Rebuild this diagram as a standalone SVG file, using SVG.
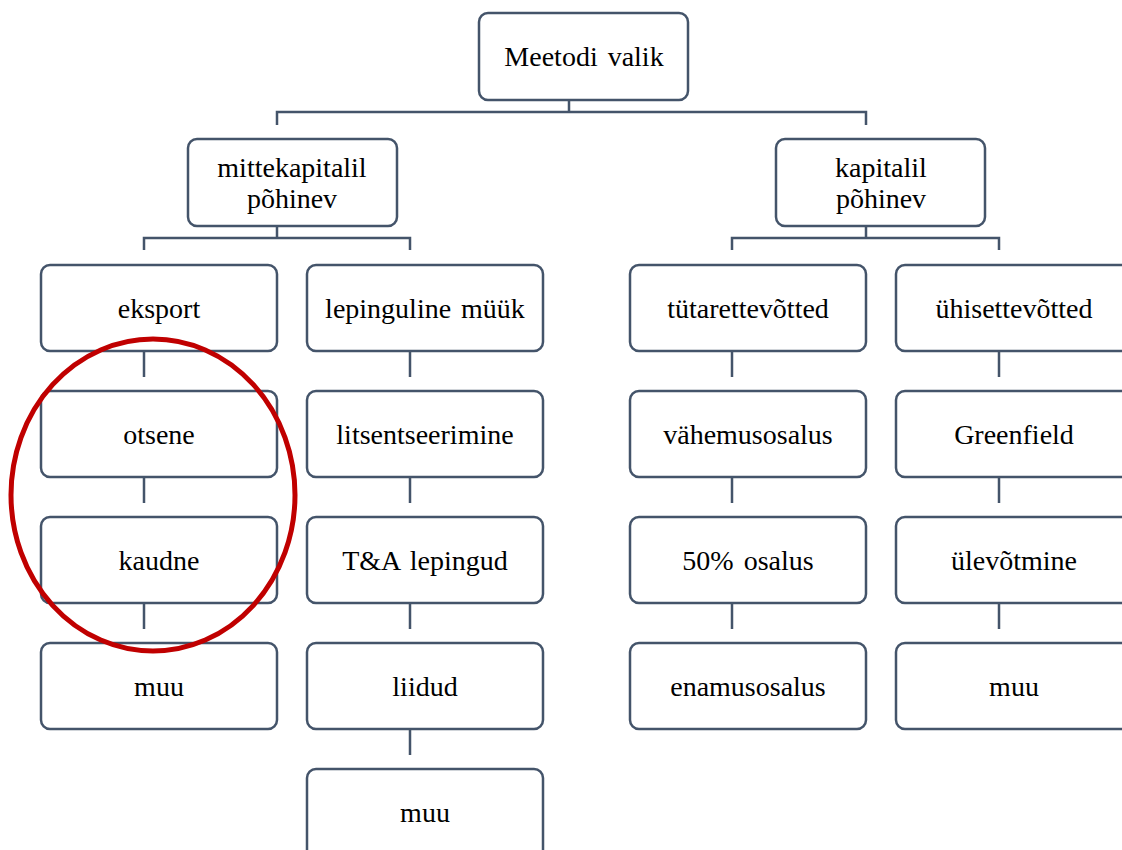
<svg xmlns="http://www.w3.org/2000/svg" width="1122" height="850" viewBox="0 0 1122 850">
<defs>
<rect id="box" width="236" height="86" rx="9" fill="#fff" stroke="#44546a" stroke-width="2.5"/>
<rect id="box2" width="209" height="87" rx="9" fill="#fff" stroke="#44546a" stroke-width="2.5"/>
</defs>
<rect width="1122" height="850" fill="#fff"/>
<g id="connectors" fill="none" stroke="#44546a" stroke-width="2.5">
<path d="M569 100V112M277 125V112H866V125"/>
<path d="M277 226V238M144 250V238H410V250"/>
<path d="M866 226V238M732 250V238H999V250"/>
<path d="M144 351V377M144 477V503M144 603V629"/>
<path d="M410 351V377M410 477V503M410 603V629M410 729V755"/>
<path d="M732 351V377M732 477V503M732 603V629"/>
<path d="M999 351V377M999 477V503M999 603V629"/>
</g>
<g font-family="Liberation Serif, serif" font-size="28" text-anchor="middle" word-spacing="3" fill="#000">
<g id="n-root"><use href="#box2" x="479" y="13"/><text x="584" y="66">Meetodi valik</text></g>
<g id="n-mitte"><use href="#box2" x="188" y="139"/><text x="292" y="177">mittekapitalil</text><text x="292" y="208">põhinev</text></g>
<g id="n-kap"><use href="#box2" x="776" y="139"/><text x="881" y="177">kapitalil</text><text x="881" y="208">põhinev</text></g>
<g id="n-eksport"><use href="#box" x="41" y="265"/><text x="159" y="318">eksport</text></g>
<g id="n-otsene"><use href="#box" x="41" y="391"/><text x="159" y="444">otsene</text></g>
<g id="n-kaudne"><use href="#box" x="41" y="517"/><text x="159" y="570">kaudne</text></g>
<g id="n-muu1"><use href="#box" x="41" y="643"/><text x="159" y="696">muu</text></g>
<g id="n-leping"><use href="#box" x="307" y="265"/><text x="425" y="318">lepinguline müük</text></g>
<g id="n-lits"><use href="#box" x="307" y="391"/><text x="425" y="444">litsentseerimine</text></g>
<g id="n-ta"><use href="#box" x="307" y="517"/><text x="425" y="570">T&amp;A lepingud</text></g>
<g id="n-liidud"><use href="#box" x="307" y="643"/><text x="425" y="696">liidud</text></g>
<g id="n-muu2"><rect x="307" y="769" width="236" height="95" rx="9" fill="#fff" stroke="#44546a" stroke-width="2.5"/><text x="425" y="822">muu</text></g>
<g id="n-tytar"><use href="#box" x="630" y="265"/><text x="748" y="318">tütarettevõtted</text></g>
<g id="n-vahem"><use href="#box" x="630" y="391"/><text x="748" y="444">vähemusosalus</text></g>
<g id="n-50"><use href="#box" x="630" y="517"/><text x="748" y="570">50% osalus</text></g>
<g id="n-enam"><use href="#box" x="630" y="643"/><text x="748" y="696">enamusosalus</text></g>
<g id="n-yhis"><use href="#box" x="896" y="265"/><text x="1014" y="318">ühisettevõtted</text></g>
<g id="n-green"><use href="#box" x="896" y="391"/><text x="1014" y="444">Greenfield</text></g>
<g id="n-ylev"><use href="#box" x="896" y="517"/><text x="1014" y="570">ülevõtmine</text></g>
<g id="n-muu3"><use href="#box" x="896" y="643"/><text x="1014" y="696">muu</text></g>
</g>
<ellipse cx="153" cy="495" rx="142" ry="156" fill="none" stroke="#c00000" stroke-width="5"/>
</svg>
